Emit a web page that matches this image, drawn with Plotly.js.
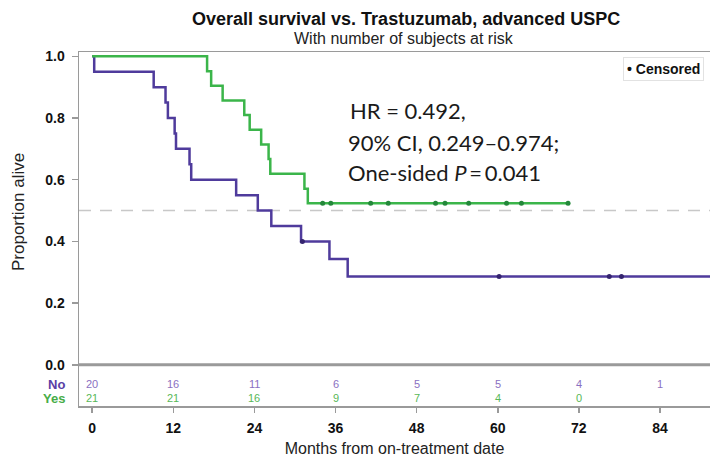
<!DOCTYPE html>
<html>
<head>
<meta charset="utf-8">
<script src="https://cdn.plot.ly/plotly-3.0.1.min.js"></script>
<style>html,body{margin:0;padding:0;background:#fff;overflow:hidden}</style>
</head>
<body>
<div id="chart" style="width:710px;height:457px"></div>
<script>
// ---- Data ----
// "No" group (purple): step times (months) and survival after each step
const noTimes = [0, 0.3, 9.1, 10.85, 11.2, 12.2, 12.4, 14.4, 14.65, 21.3, 24.5, 26.5, 30.9, 35.1, 37.8, 91.4];
const noSurv  = [1.0, 0.95, 0.90, 0.85, 0.80, 0.75, 0.70, 0.65, 0.60, 0.55, 0.50, 0.45, 0.40, 0.343, 0.286, 0.286];
const noCensor = [31.1, 60.2, 76.5, 78.3];

// "Yes" group (green)
const yesTimes = [0, 17.0, 17.6, 19.3, 22.5, 23.3, 25.0, 26.1, 26.35, 31.4, 31.9, 70.4];
const yesSurv  = [1.0, 0.952, 0.905, 0.857, 0.810, 0.762, 0.714, 0.667, 0.619, 0.571, 0.524, 0.524];
const yesCensor = [34.1, 35.3, 41.2, 43.8, 50.8, 52.2, 55.7, 61.3, 63.5, 70.4];

// Number at risk table
const riskTimes = [0, 12, 24, 36, 48, 60, 72, 84];
const riskNo  = [20, 16, 11, 6, 5, 5, 4, 1];
const riskYes = [21, 21, 16, 9, 7, 4, 0];

const yTicks = [0, 0.2, 0.4, 0.6, 0.8, 1.0];
const yTickText = ['0.0', '0.2', '0.4', '0.6', '0.8', '1.0'];

// ---- Styling ----
const purple = '#4f3b9c', purpleDark = '#35246f', purpleLight = '#8a70c2';
const green = '#3bb54a', greenDark = '#23883a', greenLight = '#58b858';

function survAt(times, surv, t) {
  let s = surv[0];
  for (let i = 0; i < times.length; i++) { if (times[i] <= t) s = surv[i]; }
  return s;
}

const traces = [
  {x: noTimes, y: noSurv, mode: 'lines', line: {shape: 'hv', color: purple, width: 2.5}, hoverinfo: 'skip', showlegend: false},
  {x: yesTimes, y: yesSurv, mode: 'lines', line: {shape: 'hv', color: green, width: 2.5}, hoverinfo: 'skip', showlegend: false},
  {x: noCensor, y: noCensor.map(t => survAt(noTimes, noSurv, t)), mode: 'markers',
   marker: {color: purpleDark, size: 5}, showlegend: false},
  {x: yesCensor, y: yesCensor.map(t => survAt(yesTimes, yesSurv, t)), mode: 'markers',
   marker: {color: greenDark, size: 5}, showlegend: false}
];

const L = 79, W = 631, T = 52, B = 51, H = 457 - T - B;
const px = v => (v - L) / W;           // pixel x -> paper x
const py = v => (457 - B - v) / H;     // pixel y -> paper y

const annotations = [];
riskTimes.forEach((t, i) => {
  annotations.push({x: t, y: -0.063, xref: 'x', yref: 'y', text: String(riskNo[i]), showarrow: false,
    font: {family: 'Liberation Sans, Arial', size: 11, color: purpleLight}, xanchor: 'center', yanchor: 'middle'});
  if (i < riskYes.length) {
    annotations.push({x: t, y: -0.108, xref: 'x', yref: 'y', text: String(riskYes[i]), showarrow: false,
      font: {family: 'Liberation Sans, Arial', size: 11, color: greenLight}, xanchor: 'center', yanchor: 'middle'});
  }
});
annotations.push(
  {x: px(67), y: -0.063, xref: 'paper', yref: 'y', text: '<b>No</b>', showarrow: false, xanchor: 'right', yanchor: 'middle',
   font: {family: 'Liberation Sans, Arial', size: 13, color: '#5a3fa6'}},
  {x: px(67), y: -0.108, xref: 'paper', yref: 'y', text: '<b>Yes</b>', showarrow: false, xanchor: 'right', yanchor: 'middle',
   font: {family: 'Liberation Sans, Arial', size: 13, color: '#47ad47'}},
  {x: px(406), y: py(19), xref: 'paper', yref: 'paper', text: '<b>Overall survival vs. Trastuzumab, advanced USPC</b>', showarrow: false,
   xanchor: 'center', yanchor: 'middle', font: {family: 'Liberation Sans, Arial', size: 18, color: '#111'}},
  {x: px(404), y: py(38), xref: 'paper', yref: 'paper', text: 'With number of subjects at risk', showarrow: false,
   xanchor: 'center', yanchor: 'middle', font: {family: 'Liberation Sans, Arial', size: 16, color: '#222'}},
  {x: px(18), y: py(212), xref: 'paper', yref: 'paper', text: 'Proportion alive', textangle: -90, showarrow: false,
   xanchor: 'center', yanchor: 'middle', font: {family: 'Liberation Sans, Arial', size: 17, color: '#222'}},
  {x: px(348), y: py(111), xref: 'paper', yref: 'paper', text: 'HR = 0.492,', showarrow: false, xanchor: 'left', yanchor: 'middle',
   font: {family: 'Lato', size: 22, color: '#1a1a1a'}},
  {x: px(346), y: py(142), xref: 'paper', yref: 'paper', text: '90% CI, 0.249\u20130.974;', showarrow: false, xanchor: 'left', yanchor: 'middle',
   font: {family: 'Lato', size: 22, color: '#1a1a1a'}},
  {x: px(346), y: py(172), xref: 'paper', yref: 'paper', text: 'One-sided <i>P</i>\u2009=\u20090.041', showarrow: false, xanchor: 'left', yanchor: 'middle',
   font: {family: 'Lato', size: 22, color: '#1a1a1a'}},
  {x: px(623), y: py(69), xref: 'paper', yref: 'paper', text: '<b>\u2022 Censored</b>', showarrow: false, xanchor: 'left', yanchor: 'middle',
   font: {family: 'Liberation Sans, Arial', size: 14, color: '#111'}, bordercolor: '#e2e2e2', borderwidth: 1, borderpad: 3, bgcolor: '#fff'}
);

const layout = {
  width: 710, height: 457,
  margin: {l: L, r: 0, t: T, b: B},
  paper_bgcolor: '#fff', plot_bgcolor: '#fff',
  showlegend: false,
  xaxis: {
    range: [-1.95, 91.4], tickvals: riskTimes, ticktext: riskTimes.map(String),
    showgrid: false, zeroline: false, showline: true, linecolor: '#9a9a9a', linewidth: 1.5, mirror: true,
    ticks: 'outside', ticklen: 5, tickcolor: '#9a9a9a', tickwidth: 1.5, ticklabelstandoff: 4,
    tickfont: {family: 'Liberation Sans, Arial', size: 14, color: '#111', weight: 'bold'},
    title: {text: 'Months from on-treatment date', standoff: 7, font: {family: 'Liberation Sans, Arial', size: 16, color: '#222'}}
  },
  yaxis: {
    range: [-0.1335, 1.014], tickvals: yTicks, ticktext: yTickText,
    showgrid: false, zeroline: false, showline: true, linecolor: '#9a9a9a', linewidth: 1.5,
    ticks: 'outside', ticklen: 6, tickcolor: '#9a9a9a', tickwidth: 1.5, ticklabelstandoff: 4,
    tickfont: {family: 'Liberation Sans, Arial', size: 14, color: '#111', weight: 'bold'}
  },
  shapes: [
    {type: 'line', xref: 'paper', yref: 'y', x0: 0, x1: 1, y0: 0, y1: 0, line: {color: '#9a9a9a', width: 3}},
    {type: 'line', xref: 'paper', yref: 'y', x0: 0, x1: 1, y0: 0.5, y1: 0.5, line: {color: '#c8c8c8', width: 1.5, dash: '12px,9px'}, layer: 'below'}
  ],
  annotations: annotations
};

Plotly.newPlot('chart', traces, layout, {displayModeBar: false, staticPlot: true});
</script>
</body>
</html>
